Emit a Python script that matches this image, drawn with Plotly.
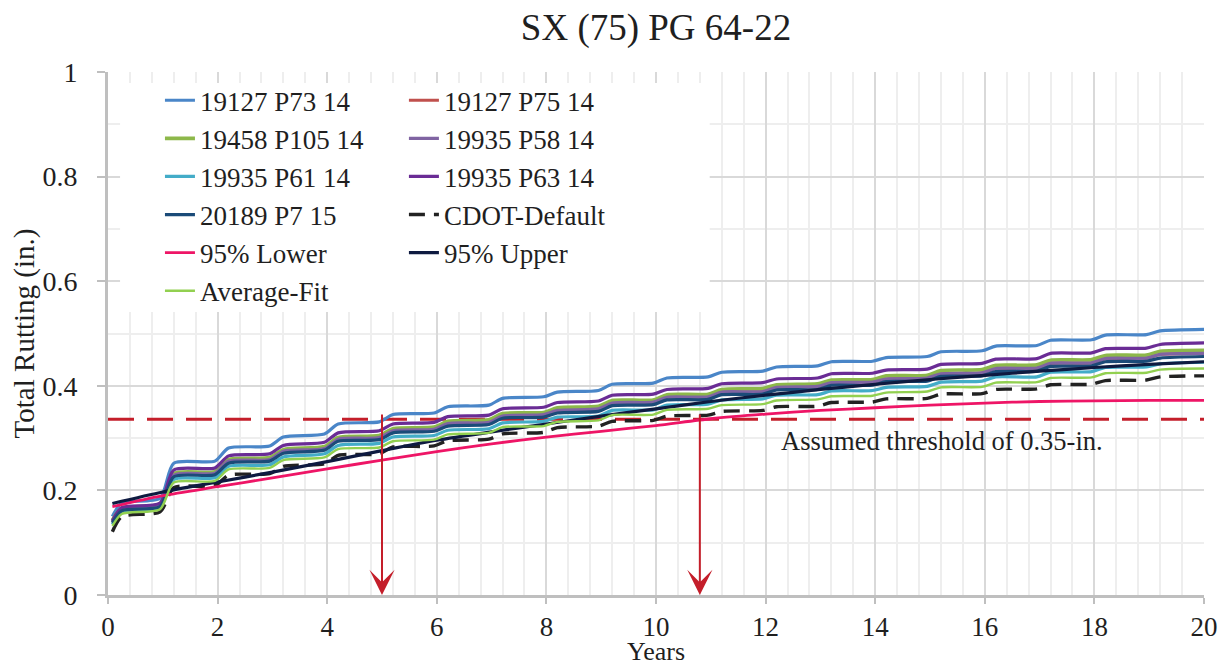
import plotly.graph_objects as go

# ---------------- data ----------------
step_years = [0.08, 0.25, 0.95, 1.2, 1.95, 2.2, 2.95, 3.2, 3.95, 4.2, 4.95, 5.2, 5.95,
              6.2, 6.95, 7.2, 7.95, 8.2, 8.95, 9.2, 9.95, 10.2, 10.95, 11.2, 11.95,
              12.2, 12.95, 13.2, 13.95, 14.2, 14.95, 15.2, 15.95, 16.2, 16.95, 17.2,
              17.95, 18.2, 18.95, 19.2, 20.0]
fit_years = [0.08, 1, 2, 3, 4, 5, 6, 7, 8, 9, 10, 11, 12, 13, 14, 15, 16, 17, 18, 19, 20]

p73_14 = [0.150, 0.176, 0.185, 0.252, 0.256, 0.281, 0.285, 0.302, 0.308, 0.327, 0.331,
          0.345, 0.348, 0.360, 0.363, 0.376, 0.379, 0.388, 0.391, 0.403, 0.405, 0.415,
          0.417, 0.426, 0.428, 0.436, 0.438, 0.446, 0.447, 0.454, 0.456, 0.465, 0.467,
          0.476, 0.477, 0.487, 0.488, 0.497, 0.498, 0.505, 0.508]
p75_14 = [0.140, 0.163, 0.171, 0.229, 0.233, 0.256, 0.259, 0.275, 0.280, 0.298, 0.301,
          0.314, 0.317, 0.328, 0.330, 0.342, 0.345, 0.353, 0.356, 0.367, 0.369, 0.378,
          0.379, 0.388, 0.389, 0.397, 0.399, 0.406, 0.407, 0.413, 0.415, 0.423, 0.425,
          0.433, 0.434, 0.443, 0.444, 0.452, 0.453, 0.460, 0.462]
p105_14 = [0.143, 0.166, 0.174, 0.232, 0.236, 0.259, 0.263, 0.278, 0.284, 0.301, 0.305,
           0.318, 0.321, 0.332, 0.335, 0.347, 0.349, 0.358, 0.361, 0.372, 0.373, 0.383,
           0.384, 0.393, 0.395, 0.402, 0.404, 0.411, 0.412, 0.419, 0.420, 0.429, 0.431,
           0.439, 0.440, 0.449, 0.450, 0.458, 0.459, 0.466, 0.468]
p58_14 = [0.140, 0.163, 0.171, 0.229, 0.233, 0.256, 0.259, 0.275, 0.280, 0.298, 0.301,
          0.314, 0.317, 0.328, 0.330, 0.342, 0.345, 0.353, 0.356, 0.367, 0.369, 0.378,
          0.379, 0.388, 0.389, 0.397, 0.399, 0.406, 0.407, 0.413, 0.415, 0.423, 0.425,
          0.433, 0.434, 0.443, 0.444, 0.452, 0.453, 0.460, 0.462]
p61_14 = [0.135, 0.159, 0.168, 0.221, 0.224, 0.246, 0.249, 0.264, 0.270, 0.286, 0.290,
          0.302, 0.305, 0.315, 0.318, 0.329, 0.332, 0.340, 0.342, 0.353, 0.354, 0.363,
          0.365, 0.373, 0.375, 0.382, 0.383, 0.390, 0.391, 0.397, 0.399, 0.407, 0.409,
          0.417, 0.417, 0.426, 0.427, 0.435, 0.436, 0.442, 0.445]
p63_14 = [0.142, 0.167, 0.176, 0.239, 0.243, 0.266, 0.270, 0.286, 0.292, 0.310, 0.314,
          0.327, 0.330, 0.341, 0.344, 0.356, 0.359, 0.368, 0.371, 0.382, 0.384, 0.393,
          0.395, 0.404, 0.406, 0.413, 0.415, 0.423, 0.424, 0.430, 0.432, 0.441, 0.443,
          0.451, 0.452, 0.462, 0.463, 0.471, 0.472, 0.479, 0.482]
p7_15 = [0.138, 0.161, 0.169, 0.226, 0.230, 0.252, 0.256, 0.271, 0.277, 0.294, 0.297,
         0.310, 0.313, 0.323, 0.326, 0.338, 0.340, 0.348, 0.351, 0.362, 0.364, 0.373,
         0.374, 0.383, 0.384, 0.392, 0.393, 0.401, 0.401, 0.408, 0.409, 0.418, 0.419,
         0.427, 0.428, 0.437, 0.438, 0.446, 0.447, 0.453, 0.456]
cdot_default = [0.121, 0.150, 0.159, 0.205, 0.209, 0.229, 0.232, 0.246, 0.251, 0.267, 0.270,
                0.283, 0.285, 0.295, 0.298, 0.308, 0.311, 0.320, 0.323, 0.332, 0.334, 0.342,
                0.344, 0.351, 0.353, 0.360, 0.361, 0.368, 0.369, 0.375, 0.376, 0.384, 0.385,
                0.393, 0.394, 0.402, 0.403, 0.410, 0.411, 0.417, 0.419]
average_fit = [0.132, 0.155, 0.164, 0.215, 0.218, 0.240, 0.243, 0.258, 0.263, 0.279, 0.282,
               0.294, 0.297, 0.307, 0.310, 0.321, 0.323, 0.331, 0.334, 0.344, 0.345, 0.354,
               0.356, 0.363, 0.365, 0.372, 0.374, 0.380, 0.381, 0.387, 0.389, 0.397, 0.398,
               0.406, 0.407, 0.415, 0.416, 0.424, 0.425, 0.431, 0.433]
lower_95 = [0.169, 0.190, 0.207, 0.224, 0.241, 0.258, 0.274, 0.289, 0.302, 0.313, 0.324,
            0.337, 0.346, 0.353, 0.358, 0.363, 0.367, 0.370, 0.371, 0.372, 0.372]
upper_95 = [0.175, 0.197, 0.216, 0.235, 0.255, 0.276, 0.296, 0.312, 0.327, 0.342, 0.356,
            0.370, 0.382, 0.393, 0.403, 0.412, 0.420, 0.428, 0.435, 0.441, 0.446]

threshold_years = [0, 20]
threshold_value = 0.336
arrow_years = [5.0, 10.8]

x_ticks = [0, 2, 4, 6, 8, 10, 12, 14, 16, 18, 20]
y_ticks = [0, 0.2, 0.4, 0.6, 0.8, 1]
y_tick_labels = ["0", "0.2", "0.4", "0.6", "0.8", "1"]

FONT = "Liberation Serif"
TXT = "#1f1f1f"

series = [
    ("19127 P73 14", step_years, p73_14, "#4A86C8", 3.2, "solid", "legend"),
    ("19127 P75 14", step_years, p75_14, "#C0504D", 3.2, "solid", "legend2"),
    ("19458 P105 14", step_years, p105_14, "#8DB84A", 3.6, "solid", "legend"),
    ("19935 P58 14", step_years, p58_14, "#8064A2", 3.2, "solid", "legend2"),
    ("19935 P61 14", step_years, p61_14, "#43ACC8", 3.2, "solid", "legend"),
    ("19935 P63 14", step_years, p63_14, "#6A2C95", 3.2, "solid", "legend2"),
    ("20189 P7 15", step_years, p7_15, "#1B4B78", 3.2, "solid", "legend"),
    ("CDOT-Default", step_years, cdot_default, "#222222", 3.4, "16px,9px", "legend2"),
    ("95% Lower", fit_years, lower_95, "#EE1566", 2.8, "solid", "legend"),
    ("95% Upper", fit_years, upper_95, "#0E1A40", 3.2, "solid", "legend2"),
    ("Average-Fit", step_years, average_fit, "#92D050", 2.4, "solid", "legend"),
]

fig = go.Figure()

# threshold line
fig.add_trace(go.Scatter(
    x=threshold_years, y=[threshold_value] * len(threshold_years), mode="lines",
    line=dict(color="#C41E2A", width=3, dash="26px,13px"),
    showlegend=False, hoverinfo="skip"))

for name, xs, ys, color, width, dash, leg in series:
    fig.add_trace(go.Scatter(
        x=xs, y=ys, mode="lines", name=name,
        line=dict(color=color, width=width, dash=dash, shape="spline", smoothing=0.7),
        legend=leg))

# arrows from threshold crossing down to the axis
for yr in arrow_years:
    fig.add_annotation(
        x=yr, y=0, ax=yr, ay=threshold_value + 0.012, xref="x", yref="y",
        axref="x", ayref="y", text="", showarrow=True,
        arrowhead=3, arrowsize=2.1, arrowwidth=2, arrowcolor="#C41E2A")

fig.add_annotation(
    x=12.25, y=0.294, xref="x", yref="y", text="Assumed threshold of 0.35-in.",
    showarrow=False, xanchor="left", yanchor="middle",
    font=dict(family=FONT, size=26.5, color=TXT))

W, H = 1223, 661  # page body adds an 8px offset in the 1231x669 window
M = dict(l=100, r=27, t=64, b=74)
plot_h = H - M["t"] - M["b"]

# x-axis title, sitting at the bottom edge just under the tick labels
fig.add_annotation(
    x=0.5, y=-(M["b"] - 2) / plot_h, xref="paper", yref="paper", text="Years",
    showarrow=False, xanchor="center", yanchor="bottom", borderpad=0,
    font=dict(family=FONT, size=26, color=TXT))

# white panel behind the legend
fig.add_shape(type="rect", xref="paper", yref="paper", x0=0.011, x1=0.549,
              y0=0.541, y1=0.979, fillcolor="white", line=dict(width=0), layer="above")

legend_common = dict(xanchor="left", yanchor="top", bgcolor="rgba(0,0,0,0)",
                     font=dict(family=FONT, size=27, color=TXT), orientation="v")

fig.update_layout(
    width=W, height=H,
    margin=dict(**M, autoexpand=False),
    paper_bgcolor="white", plot_bgcolor="white",
    title=dict(text="SX (75) PG 64-22", x=0.5, xref="paper", xanchor="center",
               y=1 - 19 / H, yref="container", yanchor="middle",
               font=dict(family=FONT, size=37, color=TXT)),
    legend=dict(x=0.0474, y=0.992, **legend_common),
    legend2=dict(x=0.270, y=0.992, **legend_common),
    xaxis=dict(
        range=[0, 20], tickvals=x_ticks, ticktext=[str(v) for v in x_ticks],
        showgrid=True, gridcolor="#D9D9D9", gridwidth=2,
        minor=dict(dtick=0.4, showgrid=True, gridcolor="#EEEEEE", gridwidth=1.5),
        showline=True, linecolor="#BFBFBF", linewidth=3,
        ticks="outside", ticklen=6, tickwidth=2, tickcolor="#BFBFBF",
        ticklabelstandoff=0,
        tickfont=dict(family=FONT, size=27, color=TXT),
        zeroline=False),
    yaxis=dict(
        range=[0, 1], tickvals=y_ticks, ticktext=y_tick_labels,
        showgrid=True, gridcolor="#D9D9D9", gridwidth=2,
        minor=dict(dtick=0.1, showgrid=True, gridcolor="#EEEEEE", gridwidth=1.5),
        showline=True, linecolor="#BFBFBF", linewidth=3,
        ticks="outside", ticklen=8, tickwidth=2, tickcolor="#BFBFBF",
        ticklabelstandoff=14,
        tickfont=dict(family=FONT, size=28, color=TXT),
        title=dict(text="Total Rutting (in.)", standoff=6,
                   font=dict(family=FONT, size=29, color=TXT)),
        zeroline=False),
)

fig.write_html("out.html")
